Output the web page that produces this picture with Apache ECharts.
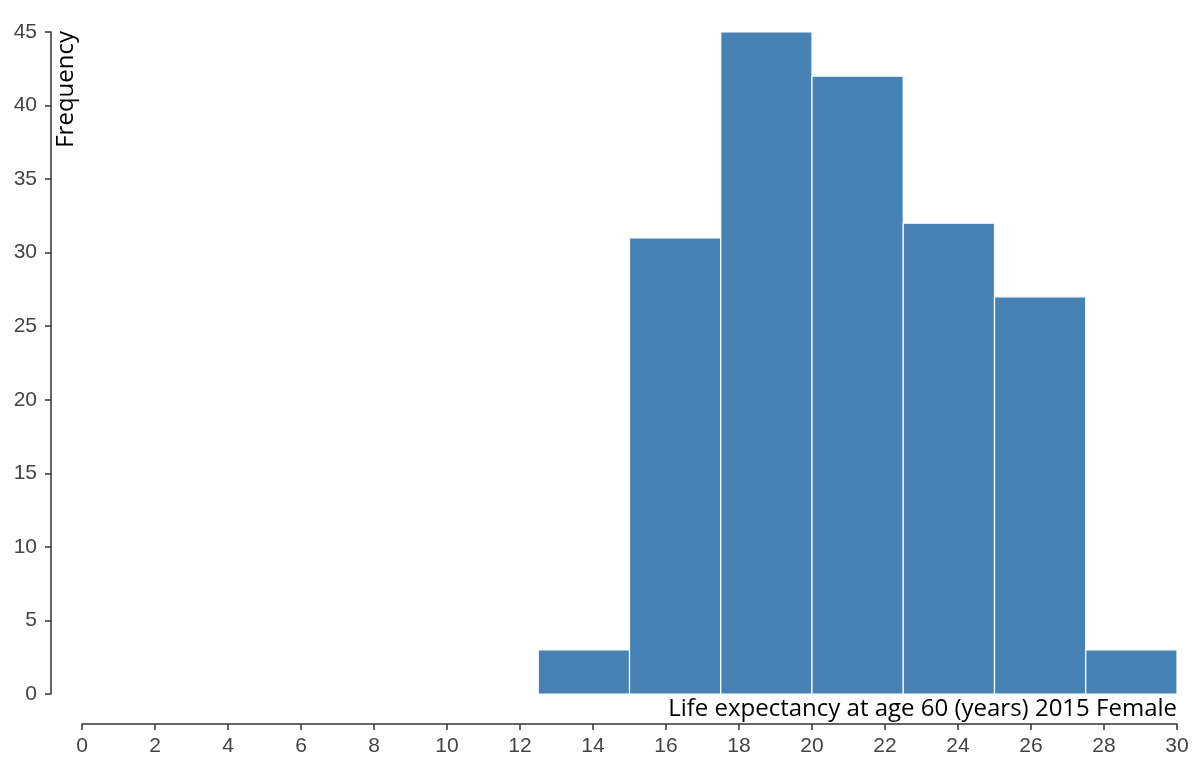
<!DOCTYPE html>
<html>
<head>
<meta charset="utf-8">
<script src="https://cdn.jsdelivr.net/npm/echarts@6/dist/echarts.min.js"></script>
<style>html,body{margin:0;padding:0;background:#fff}#c{width:1200px;height:773px}</style>
</head>
<body>
<div id="c"></div>
<script>
const binStart = [12.5, 15, 17.5, 20, 22.5, 25, 27.5];
const binEnd   = [15, 17.5, 20, 22.5, 25, 27.5, 30];
const counts   = [3, 31, 45, 42, 32, 27, 3];
const xTitle = 'Life expectancy at age 60 (years) 2015 Female';
const yTitle = 'Frequency';

const data = binStart.map((s, i) => [s, binEnd[i], counts[i]]);
const chart = echarts.init(document.getElementById('c'), null, {renderer: 'canvas'});
const tickFont = {fontFamily: 'Liberation Sans, Arial, sans-serif', fontSize: 21, color: '#444'};
chart.setOption({
  animation: false,
  grid: {left: 82, right: 23, top: 32, bottom: 79},
  xAxis: {
    type: 'value', min: 0, max: 30, interval: 2, offset: 30,
    axisLine: {show: true, onZero: false, lineStyle: {color: '#333', width: 1.5}},
    axisTick: {show: true, length: 6, lineStyle: {color: '#333', width: 1.5}},
    axisLabel: Object.assign({margin: 12}, tickFont),
    splitLine: {show: false}
  },
  yAxis: {
    type: 'value', min: 0, max: 45, interval: 5, offset: 31,
    axisLine: {show: true, onZero: false, lineStyle: {color: '#333', width: 1.5}},
    axisTick: {show: true, length: 6, lineStyle: {color: '#333', width: 1.5}},
    axisLabel: Object.assign({margin: 14}, tickFont),
    splitLine: {show: false}
  },
  series: [{
    type: 'custom',
    data: data,
    encode: {x: [0, 1], y: 2},
    renderItem: function (params, api) {
      const p0 = api.coord([api.value(0), api.value(2)]);
      const p1 = api.coord([api.value(1), 0]);
      return {
        type: 'rect',
        shape: {x: p0[0], y: p0[1], width: p1[0] - p0[0], height: p1[1] - p0[1]},
        style: {fill: '#4682b4', stroke: '#fff', lineWidth: 1.2}
      };
    }
  }],
  graphic: [
    {type: 'text', x: 1177, y: 721, style: {text: xTitle, textAlign: 'right', textVerticalAlign: 'bottom', font: '24px "Open Sans", sans-serif', fill: '#000'}},
    {type: 'text', x: 54, y: 31, rotation: Math.PI / 2, style: {text: yTitle, textAlign: 'right', textVerticalAlign: 'top', font: '24px "Open Sans", sans-serif', fill: '#000'}}
  ]
});
</script>
</body>
</html>
